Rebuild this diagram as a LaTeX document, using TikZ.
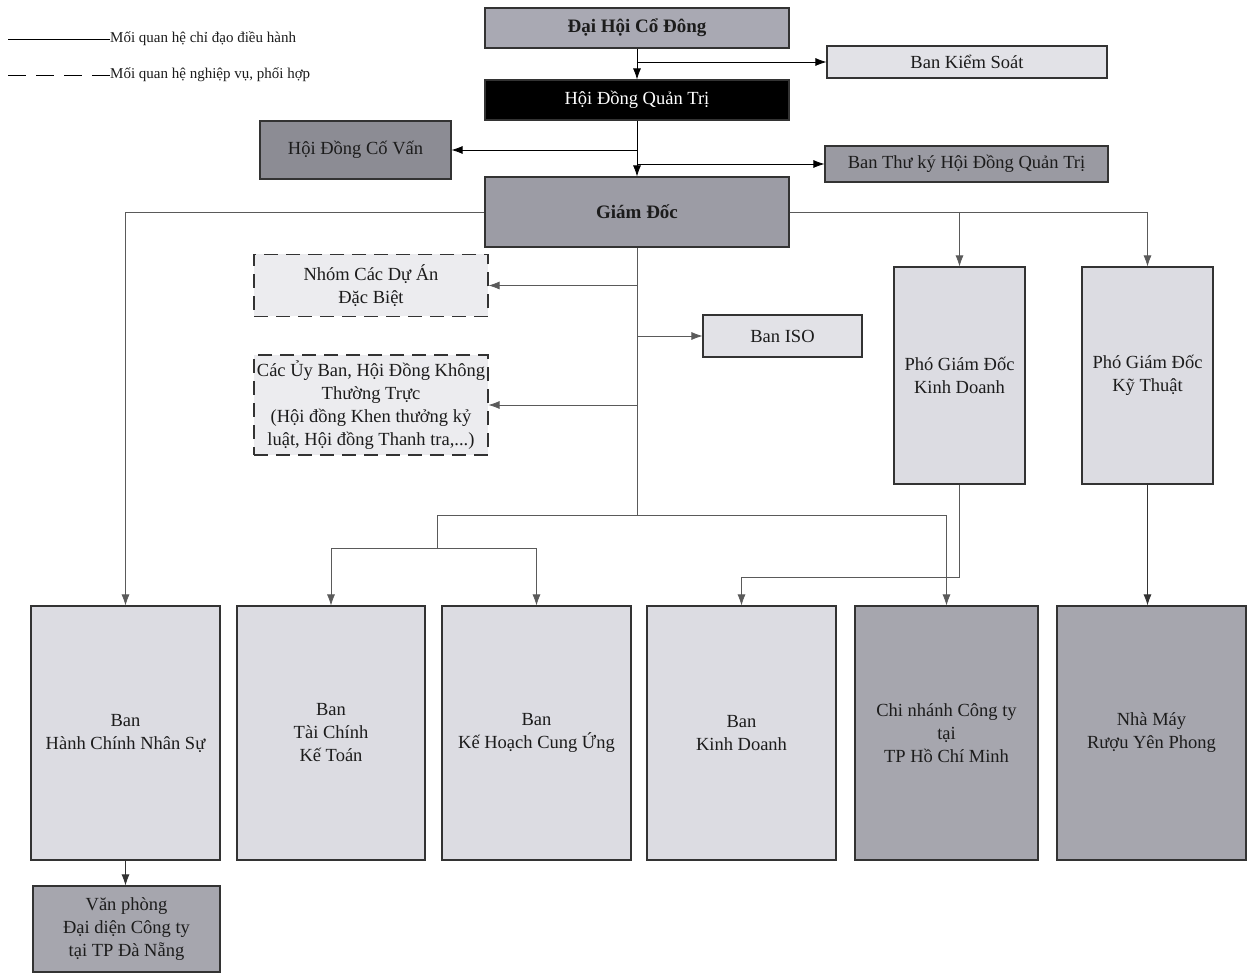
\documentclass[tikz,border=0pt]{standalone}
\usepackage{fontspec}
\setmainfont{Liberation Serif}
\usetikzlibrary{arrows.meta}
\definecolor{txt}{HTML}{1C1C1C}
\definecolor{edge}{HTML}{333333}
\definecolor{cMid}{HTML}{A9A9B3}
\definecolor{cLight}{HTML}{E2E2E7}
\definecolor{cDark}{HTML}{8C8C94}
\definecolor{cGd}{HTML}{9C9CA5}
\definecolor{cBtk}{HTML}{9A9AA2}
\definecolor{cDash}{HTML}{ECECEF}
\definecolor{cBox}{HTML}{DCDCE2}
\definecolor{cBoxD}{HTML}{A6A6AE}
\definecolor{lineG}{HTML}{5A5A5A}
\tikzset{
  box/.style={draw=edge, line width=1.1pt, inner sep=2pt, align=center, text=txt,
    font=\fontsize{18.5}{23}\selectfont},
  boldtxt/.style={font=\fontsize{19}{23}\selectfont\bfseries},
  dashbox/.style={box, dash pattern=on 14pt off 8pt, fill=cDash},
  topline/.style={draw=black, line width=0.8pt, -{Latex[length=11pt,width=8pt]}},
  subline/.style={draw=lineG, line width=0.7pt, -{Latex[length=11pt,width=8pt]}},
  plainsub/.style={draw=lineG, line width=0.7pt},
  legtxt/.style={anchor=west, inner sep=0pt, text=txt, font=\fontsize{15}{17}\selectfont}
}
\begin{document}
\begin{tikzpicture}[x=1pt,y=-1pt]
\useasboundingbox[fill=white] (0,0) rectangle (1248,976);

% legend
\node[legtxt] (leg1) at (110,39) {Mối quan hệ chỉ đạo điều hành};
\node[legtxt] (leg2) at (110,75) {Mối quan hệ nghiệp vụ, phối hợp};
\coordinate (l1s) at (8,39);
\coordinate (l2s) at (8,75);
\draw[black, line width=0.7pt] (l1s) -- (leg1.west);
\draw[black, line width=0.9pt, dash pattern=on 18pt off 10pt] (l2s) -- (leg2.west);

% top nodes
\node[box, boldtxt, fill=cMid, minimum width=304pt, minimum height=40pt] (dhcd) at (637,28) {Đại Hội Cổ Đông};
\node[box, fill=cLight, minimum width=280pt, minimum height=32pt] (bks) at (967,62) {Ban Kiểm Soát};
\node[box, fill=black, text=white, minimum width=304pt, minimum height=40pt] (hdqt) at (637,100) {Hội Đồng Quản Trị};
\node[box, fill=cDark, minimum width=191pt, minimum height=58pt] (hdcv) at (355.5,150) {Hội Đồng Cố Vấn};
\node[box, fill=cBtk, minimum width=283pt, minimum height=36pt] (btk) at (966.5,164) {Ban Thư ký Hội Đồng Quản Trị};
\node[box, boldtxt, fill=cGd, minimum width=304pt, minimum height=70pt] (gd) at (637,212) {Giám Đốc};

% middle
\node[dashbox, minimum width=234pt, minimum height=62pt] (nhom) at (371,285.5) {Nhóm Các Dự Án\\Đặc Biệt};
\node[box, fill=cLight, minimum width=159pt, minimum height=42pt] (iso) at (782.5,336) {Ban ISO};
\node[dashbox, minimum width=234pt, minimum height=100pt] (uyban) at (371,405) {Các Ủy Ban, Hội Đồng Không\\Thường Trực\\(Hội đồng Khen thưởng kỷ\\luật, Hội đồng Thanh tra,...)};
\node[box, fill=cBox, minimum width=131pt, minimum height=217pt] (pgdkd) at (959.5,375.5) {Phó Giám Đốc\\Kinh Doanh};
\node[box, fill=cBox, minimum width=131pt, minimum height=217pt] (pgdkt) at (1147.5,375.5) {Phó Giám Đốc\\Kỹ Thuật};

% bottom
\node[box, fill=cBox, minimum width=189pt, minimum height=254pt] (hcns) at (125.5,733) {Ban\\Hành Chính Nhân Sự};
\node[box, fill=cBox, minimum width=188pt, minimum height=254pt] (tckt) at (331,733) {Ban\\Tài Chính\\Kế Toán};
\node[box, fill=cBox, minimum width=189pt, minimum height=254pt] (khcu) at (536.5,733) {Ban\\Kế Hoạch Cung Ứng};
\node[box, fill=cBox, minimum width=189pt, minimum height=254pt] (bkd) at (741.5,733) {Ban\\Kinh Doanh};
\node[box, fill=cBoxD, minimum width=183pt, minimum height=254pt] (cn) at (946.5,733) {Chi nhánh Công ty\\tại\\TP Hồ Chí Minh};
\node[box, fill=cBoxD, minimum width=189pt, minimum height=254pt] (nm) at (1151.5,733) {Nhà Máy\\Rượu Yên Phong};
\node[box, fill=cBoxD, minimum width=187pt, minimum height=86pt] (vp) at (126.5,929) {Văn phòng\\Đại diện Công ty\\tại TP Đà Nẵng};

% top connectors
\draw[topline] (dhcd.south) -- (hdqt.north);
\draw[topline] (dhcd.south |- bks.west) -- (bks.west);
\draw[topline] (hdqt.south) -- (gd.north);
\draw[topline] (hdqt.south |- hdcv.east) -- (hdcv.east);
\draw[topline] (hdqt.south |- btk.west) -- (btk.west);

% from Giam Doc
\draw[subline] (gd.west) -- (hcns.north |- gd.west) -- (hcns.north);
\draw[plainsub] (gd.east) -- (pgdkt.north |- gd.east);
\draw[subline] (pgdkt.north |- gd.east) -- (pgdkt.north);
\draw[subline] (pgdkd.north |- gd.east) -- (pgdkd.north);

\coordinate (hub) at (637,515);
\coordinate (hubL) at (437,515);
\coordinate (split) at (437,548);
\draw[plainsub] (gd.south) -- (hub);
\draw[subline] (gd.south |- nhom.east) -- (nhom.east);
\draw[subline] (gd.south |- iso.west) -- (iso.west);
\draw[subline] (gd.south |- uyban.east) -- (uyban.east);

\draw[plainsub] (hubL) -- (cn.north |- hub);
\draw[subline] (cn.north |- hub) -- (cn.north);
\draw[plainsub] (hubL) -- (split);
\draw[plainsub] (tckt.north |- split) -- (khcu.north |- split);
\draw[subline] (tckt.north |- split) -- (tckt.north);
\draw[subline] (khcu.north |- split) -- (khcu.north);

\coordinate (kdturn) at (961,577);
\draw[subline] (pgdkd.south) -- (pgdkd.south |- kdturn) -- (bkd.north |- kdturn) -- (bkd.north);
\draw[topline, draw=edge] (pgdkt.south) -- (pgdkt.south |- nm.north);
\draw[topline, draw=edge] (hcns.south) -- (hcns.south |- vp.north);
\end{tikzpicture}
\end{document}
